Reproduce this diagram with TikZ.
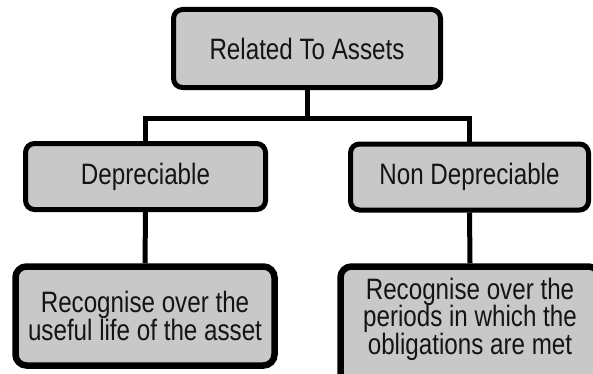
\documentclass[tikz,border=0pt]{standalone}
\usepackage{fontspec}
\setmainfont{Liberation Sans}[FakeStretch=0.82]
\usetikzlibrary{positioning,calc}
\definecolor{boxGray}{HTML}{C8C8C8}
\definecolor{inkBlack}{HTML}{141414}

\begin{document}
\begin{tikzpicture}[
  x=1pt, y=1pt,
  line width=5pt,
  every node/.style={inner sep=2pt},
  % --- Reusable styles -------------------------------------------------------
  catbox/.style={                % category box, size set per node
    rectangle, rounded corners=9pt,
    draw=black, fill=boxGray, text=inkBlack,
    font={\fontsize{29.5}{27.5}\selectfont}, align=center,
  },
  notebox/.style={               % thicker box for the rule text
    catbox, line width=6.5pt, rounded corners=11pt,
    minimum width=259pt, minimum height=99pt,
  },
  link/.style={draw=black, line width=5pt},
]
\useasboundingbox (0,0) rectangle (593,373);

% --- Nodes -------------------------------------------------------------------
\node[catbox, minimum width=267pt, minimum height=78pt] (assets) at (307,324.5) {Related To Assets};
\node[catbox, minimum width=240pt, minimum height=66pt] (dep)    at (145.5,196.5) {Depreciable};
\node[catbox, minimum width=238pt, minimum height=66pt] (nondep) at (469.5,196) {Non Depreciable};
\node[notebox, yshift=2pt]           (depnote)    at (145,55) {Recognise over the\\useful life of the asset};
\node[notebox, minimum height=118pt, text depth=19pt] (nondepnote) at (470,47.5) {Recognise over the\\periods in which the\\obligations are met};

% --- Connectors --------------------------------------------------------------
\coordinate (bus) at ($(assets.south)+(0,-28.5)$);
\draw[link] (assets.south) -- (bus) -| (dep.north);
\draw[link] (bus) -| (nondep.north);
\draw[link] (dep.south) -- (depnote.north);
\draw[link] (nondep.south) -- (nondepnote.north);

\end{tikzpicture}
\end{document}
